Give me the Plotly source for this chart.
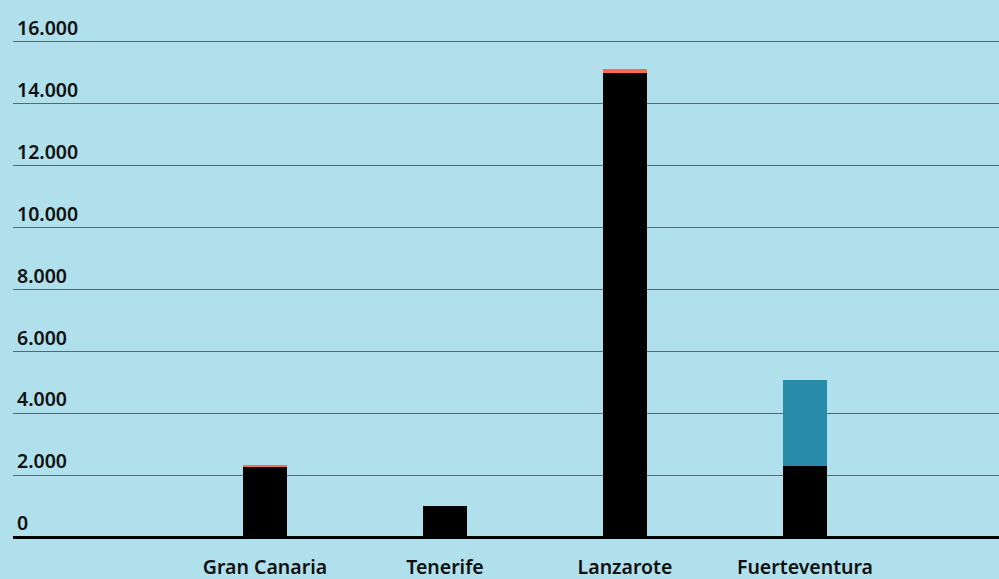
import plotly.graph_objects as go

islands = ["Gran Canaria", "Tenerife", "Lanzarote", "Fuerteventura"]
base_values = [2270, 1000, 15000, 2300]
red_values = [60, 0, 130, 0]
teal_values = [0, 0, 0, 2780]
y_ticks = [0, 2000, 4000, 6000, 8000, 10000, 12000, 14000, 16000]
y_tick_labels = ["0", "2.000", "4.000", "6.000", "8.000", "10.000", "12.000", "14.000", "16.000"]

FONT = "Noto Sans, sans-serif"
BG = "#b0e0eb"

fig = go.Figure()
fig.add_trace(go.Bar(x=islands, y=base_values, marker=dict(color="#000000", line=dict(width=0)), width=0.244))
fig.add_trace(go.Bar(x=islands, y=red_values, marker=dict(color="#ff6b4f", line=dict(width=0)), width=0.244))
fig.add_trace(go.Bar(x=islands, y=teal_values, marker=dict(color="#278ca9", line=dict(width=0)), width=0.244))

tf = dict(family=FONT, size=19.5, color="#111111", weight=600)

fig.update_layout(
    barmode="stack",
    width=999, height=579,
    margin=dict(l=13, r=0, t=10, b=42),
    paper_bgcolor=BG, plot_bgcolor=BG,
    showlegend=False,
    font=tf,
    xaxis=dict(
        type="category", range=[-1.4, 4.078], showgrid=False, showline=False,
        ticks="", tickfont=tf, ticklabelstandoff=16,
        fixedrange=True,
    ),
    yaxis=dict(
        range=[0, 17030], tickvals=y_ticks, ticktext=y_tick_labels,
        ticklabelposition="inside top", showgrid=True, gridcolor="#4f6b75", gridwidth=1.2,
        zeroline=True, zerolinecolor="#000000", zerolinewidth=2.5,
        showline=False, ticks="", tickfont=tf,
        ticklabelstandoff=1,
    ),
)

post = "document.body.style.margin='0';document.body.style.padding='0';"
fig.write_html("out.html", config={"displayModeBar": False}, post_script=post)
